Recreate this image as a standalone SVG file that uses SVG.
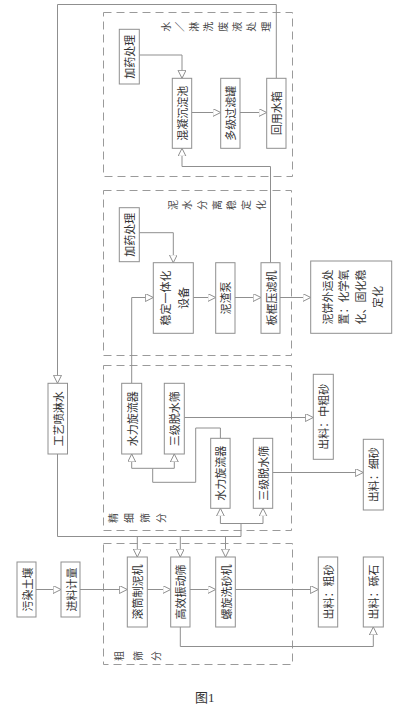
<svg xmlns="http://www.w3.org/2000/svg" width="409" height="713" viewBox="0 0 409 713">
<style>
.bg{fill:#ffffff}
.box{fill:#ffffff;stroke:#8f8f8f;stroke-width:1}
.sec{fill:none;stroke:#9a9a9a;stroke-width:1;stroke-dasharray:8,5}
.ln{fill:none;stroke:#8f8f8f;stroke-width:1}
.t{font-family:"Noto Sans CJK SC","Noto Sans",sans-serif;font-size:11px;fill:#333;text-anchor:middle;dominant-baseline:central}
.s{font-family:"Noto Sans CJK SC","Noto Sans",sans-serif;font-size:10px;fill:#444;text-anchor:middle;dominant-baseline:central}
.cap{font-family:"Liberation Serif","Noto Sans CJK SC",serif;font-size:13px;fill:#333}
</style>
<defs>
<marker id="ah" markerUnits="userSpaceOnUse" markerWidth="10" markerHeight="10" refX="8" refY="4" orient="auto">
<path d="M0,0 L8,4 L0,8 Z" fill="#ffffff" stroke="#8f8f8f" stroke-width="1"/>
</marker>
</defs>
<rect class="bg" x="0" y="0" width="409" height="713"/>

<g id="sections">
<rect class="sec" x="103.5" y="12.5" width="189" height="164"/>
<rect class="sec" x="103.5" y="190.5" width="188" height="165"/>
<rect class="sec" x="103.5" y="365.5" width="188" height="165"/>
<rect class="sec" x="103.5" y="543.5" width="189" height="121"/>
<g id="label-water">
<text class="s" transform="translate(165,26.7) rotate(-90)">水</text>
<text class="s" transform="translate(179.3,26.7) rotate(-90)">／</text>
<text class="s" transform="translate(193.6,26.7) rotate(-90)">淋</text>
<text class="s" transform="translate(207.9,26.7) rotate(-90)">洗</text>
<text class="s" transform="translate(222.1,26.7) rotate(-90)">废</text>
<text class="s" transform="translate(236.4,26.7) rotate(-90)">液</text>
<text class="s" transform="translate(250.7,26.7) rotate(-90)">处</text>
<text class="s" transform="translate(265,26.7) rotate(-90)">理</text>
</g>
<g id="label-sludge">
<text class="s" transform="translate(172,205) rotate(-90)">泥</text>
<text class="s" transform="translate(186.7,205) rotate(-90)">水</text>
<text class="s" transform="translate(201.3,205) rotate(-90)">分</text>
<text class="s" transform="translate(216,205) rotate(-90)">离</text>
<text class="s" transform="translate(230.7,205) rotate(-90)">稳</text>
<text class="s" transform="translate(245.3,205) rotate(-90)">定</text>
<text class="s" transform="translate(260,205) rotate(-90)">化</text>
</g>
<g id="label-fine">
<text class="s" transform="translate(112,518) rotate(-90)">精</text>
<text class="s" transform="translate(128,518) rotate(-90)">细</text>
<text class="s" transform="translate(144,518) rotate(-90)">筛</text>
<text class="s" transform="translate(160,518) rotate(-90)">分</text>
</g>
<g id="label-coarse">
<text class="s" transform="translate(118,656) rotate(-90)">粗</text>
<text class="s" transform="translate(137,656) rotate(-90)">筛</text>
<text class="s" transform="translate(155,656) rotate(-90)">分</text>
</g>
</g>

<g id="connectors">
<line class="ln" x1="36" y1="589.5" x2="61" y2="589.5" marker-end="url(#ah)"/>
<line class="ln" x1="80" y1="589.5" x2="127.3" y2="589.5" marker-end="url(#ah)"/>
<line class="ln" x1="147.3" y1="589.5" x2="170.7" y2="589.5" marker-end="url(#ah)"/>
<line class="ln" x1="190" y1="589.5" x2="215.7" y2="589.5" marker-end="url(#ah)"/>
<line class="ln" x1="235.3" y1="589.5" x2="318.3" y2="589.5" marker-end="url(#ah)"/>
<polyline class="ln" points="180.3,627 180.3,646.5 373.3,646.5 373.3,627" marker-end="url(#ah)"/>
<polyline class="ln" points="276.3,78.3 276.3,4.5 57.5,4.5 57.5,383.3" marker-end="url(#ah)"/>
<polyline class="ln" points="57.5,454 57.5,536.5 241,536.5 241,523.5"/>
<polyline class="ln" points="241,523.5 220.4,523.5 220.4,508.3" marker-end="url(#ah)"/>
<polyline class="ln" points="241,523.5 263,523.5 263,508.3" marker-end="url(#ah)"/>
<line class="ln" x1="137.3" y1="536.5" x2="137.3" y2="557" marker-end="url(#ah)"/>
<line class="ln" x1="180.3" y1="536.5" x2="180.3" y2="557" marker-end="url(#ah)"/>
<line class="ln" x1="225.5" y1="536.5" x2="225.5" y2="557" marker-end="url(#ah)"/>
<polyline class="ln" points="220.4,438.3 220.4,428 195.7,428 195.7,482.3 152.7,482.3 152.7,468.3"/>
<polyline class="ln" points="152.7,468.3 131.7,468.3 131.7,454" marker-end="url(#ah)"/>
<polyline class="ln" points="152.7,468.3 174.3,468.3 174.3,454" marker-end="url(#ah)"/>
<line class="ln" x1="184.3" y1="417.5" x2="313.3" y2="417.5" marker-end="url(#ah)"/>
<line class="ln" x1="272.7" y1="472.5" x2="363.3" y2="472.5" marker-end="url(#ah)"/>
<polyline class="ln" points="131.7,383.3 131.7,297.5 153.3,297.5" marker-end="url(#ah)"/>
<polyline class="ln" points="139.3,232.7 173.3,232.7 173.3,262.7" marker-end="url(#ah)"/>
<line class="ln" x1="193.3" y1="297.5" x2="215.7" y2="297.5" marker-end="url(#ah)"/>
<line class="ln" x1="235" y1="297.5" x2="261" y2="297.5" marker-end="url(#ah)"/>
<line class="ln" x1="280" y1="297.5" x2="310.7" y2="297.5" marker-end="url(#ah)"/>
<polyline class="ln" points="270.5,262.7 270.5,166.5 182,166.5 182,148.3" marker-end="url(#ah)"/>
<polyline class="ln" points="139.3,55 182,55 182,78.3" marker-end="url(#ah)"/>
<line class="ln" x1="191.7" y1="112.5" x2="220.7" y2="112.5" marker-end="url(#ah)"/>
<line class="ln" x1="240" y1="112.5" x2="266.7" y2="112.5" marker-end="url(#ah)"/>
</g>

<g id="n1"><rect class="box" x="17" y="562" width="19" height="55"/><text class="t" transform="translate(26.5,589.5) rotate(-90)">污染土壤</text></g>
<g id="n2"><rect class="box" x="61" y="562" width="19" height="55"/><text class="t" transform="translate(70.5,589.5) rotate(-90)">进料计量</text></g>
<g id="n3"><rect class="box" x="127.3" y="557" width="20" height="70"/><text class="t" transform="translate(137.3,592) rotate(-90)">滚筒制泥机</text></g>
<g id="n4"><rect class="box" x="170.7" y="557" width="19.3" height="70"/><text class="t" transform="translate(180.3,592) rotate(-90)">高效振动筛</text></g>
<g id="n5"><rect class="box" x="215.7" y="557" width="19.6" height="70"/><text class="t" transform="translate(225.5,592) rotate(-90)">螺旋洗砂机</text></g>
<g id="n6"><rect class="box" x="318.3" y="557" width="19.4" height="70"/><text class="t" transform="translate(328,592) rotate(-90)">出料：粗砂</text></g>
<g id="n7"><rect class="box" x="363.3" y="557" width="20" height="70"/><text class="t" transform="translate(373.3,592) rotate(-90)">出料：砾石</text></g>
<g id="n8"><rect class="box" x="48" y="383.3" width="19.5" height="70.7"/><text class="t" transform="translate(57.8,418.7) rotate(-90)">工艺喷淋水</text></g>
<g id="n9"><rect class="box" x="121.7" y="383.3" width="20" height="70.7"/><text class="t" transform="translate(131.7,418.7) rotate(-90)">水力旋流器</text></g>
<g id="n10"><rect class="box" x="164.3" y="383.3" width="20" height="70.7"/><text class="t" transform="translate(174.3,418.7) rotate(-90)">三级脱水筛</text></g>
<g id="n11"><rect class="box" x="210.7" y="438.3" width="19.4" height="70"/><text class="t" transform="translate(220.4,473.3) rotate(-90)">水力旋流器</text></g>
<g id="n12"><rect class="box" x="253.3" y="438.3" width="19.4" height="70"/><text class="t" transform="translate(263,473.3) rotate(-90)">三级脱水筛</text></g>
<g id="n13"><rect class="box" x="313.3" y="374.3" width="20" height="85"/><text class="t" transform="translate(323.3,416.8) rotate(-90)">出料：中粗砂</text></g>
<g id="n14"><rect class="box" x="363.3" y="439.3" width="20" height="70.7"/><text class="t" transform="translate(373.3,474.7) rotate(-90)">出料：细砂</text></g>
<g id="n15"><rect class="box" x="119.3" y="207.7" width="20" height="54"/><text class="t" transform="translate(129.3,234.7) rotate(-90)">加药处理</text></g>
<g id="n16"><rect class="box" x="153.3" y="262.7" width="40" height="70.6"/><text class="t" transform="translate(165,298) rotate(-90)">稳定一体化</text><text class="t" transform="translate(183,298) rotate(-90)">设备</text></g>
<g id="n17"><rect class="box" x="215.7" y="262.7" width="19.3" height="70.6"/><text class="t" transform="translate(225.4,298) rotate(-90)">泥渣泵</text></g>
<g id="n18"><rect class="box" x="261" y="262.7" width="19" height="70.6"/><text class="t" transform="translate(270.5,298) rotate(-90)">板框压滤机</text></g>
<g id="n19"><rect class="box" x="310.7" y="261" width="81" height="72.3"/>
<text class="t" transform="translate(326.7,297) rotate(-90)">泥饼外运处</text>
<text class="t" transform="translate(343.3,297) rotate(-90)">置：化学氧</text>
<text class="t" transform="translate(360,297) rotate(-90)">化、固化稳</text>
<text class="t" transform="translate(376.7,297) rotate(-90)">定化</text></g>
<g id="n20"><rect class="box" x="119.3" y="29.3" width="20" height="54.7"/><text class="t" transform="translate(129.3,56.7) rotate(-90)">加药处理</text></g>
<g id="n21"><rect class="box" x="172.3" y="78.3" width="19.4" height="70"/><text class="t" transform="translate(182,113.3) rotate(-90)">混凝沉淀池</text></g>
<g id="n22"><rect class="box" x="220.7" y="78.3" width="19.3" height="70"/><text class="t" transform="translate(230.4,113.3) rotate(-90)">多级过滤罐</text></g>
<g id="n23"><rect class="box" x="266.7" y="78.3" width="19.3" height="70"/><text class="t" transform="translate(276.3,113.3) rotate(-90)">回用水箱</text></g>

<text class="cap" x="195" y="702">图1</text>
</svg>
